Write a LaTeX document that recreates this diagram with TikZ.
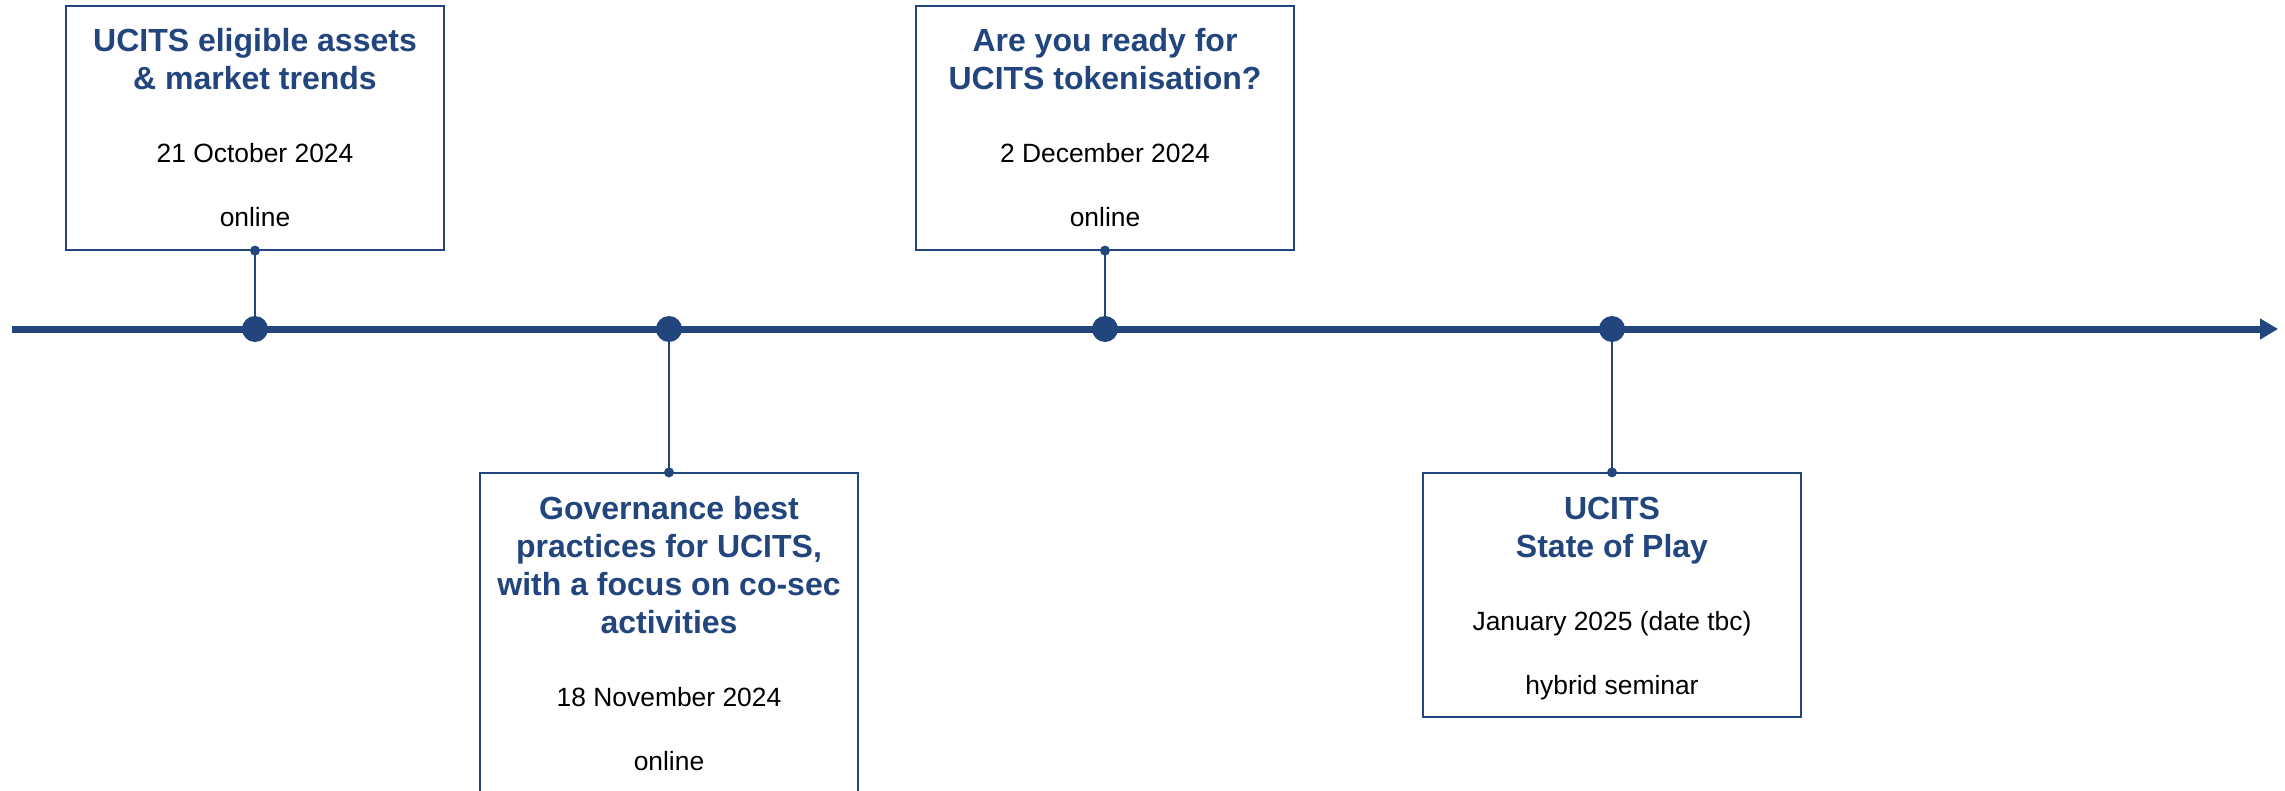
\documentclass[tikz,border=0pt]{standalone}
\usepackage{fontspec}
\setmainfont{Liberation Sans}
\usetikzlibrary{arrows.meta}
\usetikzlibrary{positioning}

\definecolor{ucitsblue}{RGB}{33,69,124}

\newcommand{\evtitle}[1]{{\bfseries\color{ucitsblue}#1}}
\newcommand{\evinfo}[1]{{\fontsize{13.2}{19}\selectfont #1\rule[-3pt]{0pt}{3pt}}}

\tikzset{
  timeline/.style={line width=3.5pt,ucitsblue,-{Triangle[length=9pt,width=10pt]}},
  evdot/.style={circle,fill=ucitsblue,minimum size=13pt,inner sep=0pt},
  stem/.style={line width=1.2pt,ucitsblue},
  eventbox/.style={draw=ucitsblue,line width=0.9pt,fill=white,text width=181pt,align=flush center,
    inner xsep=4pt,inner ysep=8.5pt,text height=14.5pt,font=\fontsize{16}{19}\selectfont}
}

\begin{document}
\begin{tikzpicture}[x=0.5pt,y=-0.5pt]

  \useasboundingbox (0,0) rectangle (2285,791);
  \clip (0,0) rectangle (2285,791);

  \coordinate (tstart) at (12,329);
  \coordinate (tend) at (2278,329);
  \draw[timeline] (tstart) -- (tend);

  \node[evdot] (d1) at (255,329) {};
  \node[evdot] (d2) at (669,329) {};
  \node[evdot] (d3) at (1105,329) {};
  \node[evdot] (d4) at (1612,329) {};

  \node[eventbox,above=32.5pt of d1] (ev1) {\evtitle{UCITS eligible assets}\\\evtitle{\& market trends}\\[17.5pt]
    \evinfo{21 October 2024}\\[13pt]\evinfo{online}};
  \node[eventbox,below=65pt of d2] (ev2) {\evtitle{Governance best}\\\evtitle{practices for UCITS,}\\
    \evtitle{with a focus on co-sec}\\\evtitle{activities}\\[17.5pt]
    \evinfo{18 November 2024}\\[13pt]\evinfo{online}};
  \node[eventbox,above=32.5pt of d3] (ev3) {\evtitle{Are you ready for}\\\evtitle{UCITS tokenisation?}\\[17.5pt]
    \evinfo{2 December 2024}\\[13pt]\evinfo{online}};
  \node[eventbox,below=65pt of d4] (ev4) {\evtitle{UCITS}\\\evtitle{State of Play}\\[17.5pt]
    \evinfo{January 2025 (date tbc)}\\[13pt]\evinfo{hybrid seminar}};

  % stems
  \draw[stem] (d1) -- (ev1);
  \draw[stem] (d2) -- (ev2);
  \draw[stem] (d3) -- (ev3);
  \draw[stem] (d4) -- (ev4);

  \fill[ucitsblue] (ev1.south) circle[radius=2.5pt];
  \fill[ucitsblue] (ev2.north) circle[radius=2.5pt];
  \fill[ucitsblue] (ev3.south) circle[radius=2.5pt];
  \fill[ucitsblue] (ev4.north) circle[radius=2.5pt];

\end{tikzpicture}
\end{document}
